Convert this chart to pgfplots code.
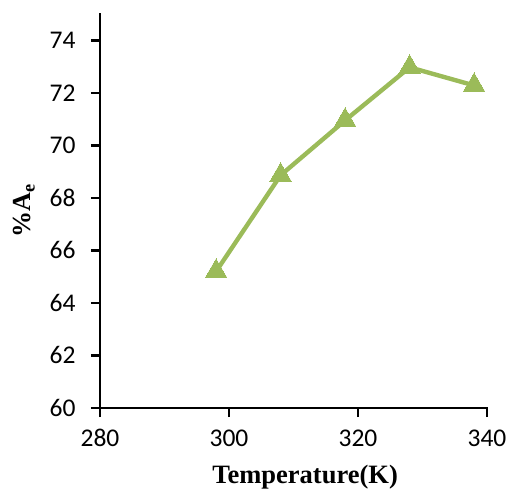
\documentclass[border=0pt]{standalone}
\usepackage{pgfplots}
\pgfplotsset{compat=1.18}
\usepackage{fontspec}
\setmainfont{Carlito}
\newfontfamily\timesfont{Liberation Serif}
\definecolor{lgreen}{HTML}{9BBB59}
\begin{document}
\begin{tikzpicture}[x=1pt,y=1pt]
\useasboundingbox (-100,-83) rectangle (410,408);
\begin{axis}[
  at={(0,0)}, anchor=south west,
  scale only axis, width=387pt, height=394pt,
  xmin=280, xmax=340, ymin=60, ymax=75,
  xtick={280,300,320,340},
  ytick={60,62,...,74},
  axis lines*=left,
  axis line style={line width=2.6pt, line cap=rect},
  tick align=outside,
  major tick length=9pt,
  tick style={line width=2.6pt, black},
  major tick style={line width=2.6pt, black},
  every tick label/.append style={font=\fontsize{25.5}{30}\selectfont},
  /pgf/number format/assume math mode=true,
  xticklabel style={yshift=-9pt},
  yticklabel style={xshift=-12pt},
  xlabel={\timesfont\bfseries\fontsize{26.5}{30}\selectfont Temperature(K)},
  ylabel={\timesfont\bfseries\fontsize{26}{30}\selectfont \%A\textsubscript{e}},
  xlabel style={at={(axis description cs:0.53,-0.175)}, anchor=center},
  ylabel style={at={(axis description cs:-0.196,0.5)}, anchor=center},
  clip=false,
]
\addplot[color=lgreen, line width=4.4pt, mark=triangle*, mark size=12.5pt, mark options={fill=lgreen, draw=lgreen, line width=0pt}]
 coordinates {(298,65.2) (308,68.86) (318,70.95) (328,72.97) (338,72.28)};
\end{axis}
\end{tikzpicture}
\end{document}
